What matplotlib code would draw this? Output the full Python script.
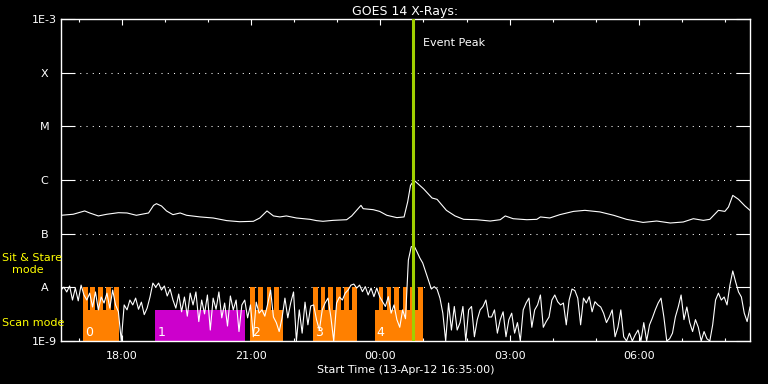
import numpy as np
import matplotlib.pyplot as plt

# GOES 14 X-ray flux, time in minutes after 13-Apr-12 16:35:00
# long channel (1-8 A), flux in units of 1e-7 W/m^2
long_minutes = [0, 17, 33, 40, 52, 64, 80, 92, 105, 122, 129, 133, 140, 147, 156, 166,
                175, 194, 212, 231, 249, 268, 277, 287, 296, 305, 314, 328, 347, 356,
                365, 379, 398, 405, 418, 421, 435, 444, 454, 468, 478, 483, 487, 491,
                493, 505, 517, 524, 537, 549, 561, 579, 598, 612, 619, 630, 649, 663,
                668, 681, 695, 714, 730, 751, 770, 788, 811, 830, 849, 867, 881, 895,
                904, 916, 925, 930, 936, 944, 953, 960]
long_flux = [2.2, 2.3, 2.65, 2.43, 2.14, 2.3, 2.46, 2.43, 2.2, 2.43, 3.37, 3.62, 3.28, 2.65,
             2.26, 2.43, 2.2, 2.05, 1.96, 1.75, 1.67, 1.7, 1.96, 2.65, 2.14, 2.05, 2.14,
             1.96, 1.85, 1.75, 1.7, 1.77, 1.82, 2.14, 3.37, 2.92, 2.8, 2.6, 2.2, 1.99,
             2.05, 3.9, 7.94, 9.43, 9.59, 6.89, 4.62, 4.36, 2.72, 2.14, 1.85, 1.82, 1.72,
             1.82, 2.14, 1.9, 1.82, 1.85, 2.05, 1.96, 2.26, 2.6, 2.72, 2.54, 2.2, 1.85,
             1.62, 1.72, 1.58, 1.65, 1.9, 1.77, 1.85, 2.72, 2.6, 3.14, 5.17, 4.36, 3.28,
             2.72]

# short channel (0.5-4 A), one value every 4 minutes, units of 1e-9 W/m^2
short_step = 4
short_flux = [8.9, 10.1, 8.2, 10.6, 5.8, 9.7, 5.6, 11.0, 7.2, 5.8,
              7.8, 4.3, 8.2, 3.8, 6.6, 5.1, 7.8, 4.1, 8.9, 4.7,
              3.5, 1.0, 4.7, 3.8, 5.8, 4.7, 6.3, 3.9, 5.3, 3.1,
              4.1, 6.6, 12.0, 10.1, 12.0, 8.9, 10.6, 6.9, 9.3, 5.8,
              4.1, 7.5, 3.5, 6.6, 2.9, 7.8, 4.7, 8.2, 2.3, 5.8,
              3.2, 7.2, 1.6, 6.3, 3.9, 8.2, 2.7, 5.1, 1.9, 6.9,
              3.8, 5.8, 1.5, 4.7, 5.8, 2.7, 4.7, 1.2, 5.3, 3.3,
              3.8, 2.9, 4.9, 8.9, 2.8, 2.2, 1.5, 2.7, 6.3, 2.7,
              5.1, 8.2, 1.0, 3.8, 1.4, 5.3, 2.0, 4.5, 4.7, 2.5,
              1.6, 3.8, 5.1, 6.3, 2.8, 1.0, 5.1, 6.6, 5.8, 7.8,
              8.9, 11.0, 11.5, 9.7, 11.0, 8.3, 10.3, 7.2, 9.7, 6.7,
              9.7, 6.7, 5.4, 4.4, 6.7, 3.3, 4.7, 2.5, 1.8, 3.8,
              2.6, 32.3, 57.1, 58.9, 46.0, 35.2, 28.4, 19.6, 13.7, 9.3,
              10.3, 9.2, 6.3, 3.3, 1.0, 5.1, 1.6, 4.4, 1.6, 2.2,
              4.4, 1.0, 3.8, 4.4, 1.2, 2.5, 3.8, 4.4, 5.8, 2.8,
              2.8, 3.8, 1.4, 2.5, 3.5, 1.2, 2.5, 3.3, 1.4, 2.2,
              1.0, 3.8, 5.1, 6.3, 1.8, 3.8, 4.7, 7.2, 1.8, 2.3,
              2.8, 5.8, 7.2, 5.4, 4.7, 5.1, 2.0, 5.8, 9.3, 8.7,
              6.3, 2.0, 6.3, 5.1, 6.7, 3.5, 5.4, 4.7, 4.3, 3.3,
              2.2, 2.8, 3.8, 1.2, 1.8, 3.8, 1.2, 1.0, 1.4, 1.0,
              1.3, 1.6, 1.0, 2.2, 1.0, 2.0, 2.7, 3.8, 5.1, 6.3,
              2.8, 1.0, 1.1, 1.4, 2.8, 4.3, 7.2, 2.5, 4.3, 2.2,
              1.5, 2.5, 1.8, 1.0, 1.5, 1.1, 1.0, 2.0, 5.8, 7.8,
              5.8, 6.6, 4.7, 11.0, 20.2, 12.6, 8.2, 6.6, 3.3, 2.3,
              4.3]

peak_minute = 491

# observing mode blocks
block_labels = ['0', '1', '2', '3', '4']
block_start = [31, 131, 263, 351, 437]
block_end = [81, 256, 309, 412, 504]
block_colors = ['#ff8000', '#cc00cc', '#ff8000', '#ff8000', '#ff8000']
# sit & stare intervals
stare_start = [31, 41, 52, 63, 74, 263, 275, 287, 297, 351, 362, 372, 383, 394, 405,
               443, 454, 464, 476, 486, 497]
stare_end = [38, 48, 59, 70, 81, 270, 281, 293, 304, 358, 368, 379, 390, 401, 412,
             449, 460, 471, 482, 493, 504]
scan_top = 3.8e-9
stare_top = 1e-8

tick_minutes = [85, 265, 445, 625, 805]
tick_labels = ['18:00', '21:00', '00:00', '03:00', '06:00']
class_levels = [1e-9, 1e-8, 1e-7, 1e-6, 1e-5, 1e-4, 1e-3]
class_labels = ['1E-9', 'A', 'B', 'C', 'M', 'X', '1E-3']

fig = plt.figure(figsize=(7.68, 3.84), dpi=100, facecolor='black')
ax = fig.add_axes([61/768, 1 - 341/384, 689/768, 322/384], facecolor='black')

# mode blocks
for s, e, c in zip(block_start, block_end, block_colors):
    ax.bar(s, scan_top - 1e-9, width=e - s, bottom=1e-9, align='edge',
           color=c, linewidth=0, zorder=2)
for s, e in zip(stare_start, stare_end):
    ax.bar(s, stare_top - 1e-9, width=e - s, bottom=1e-9, align='edge',
           color='#ff8000', linewidth=0, zorder=2)
for s, lab in zip(block_start, block_labels):
    ax.text(s + 3, 1.45e-9, lab, color='white', fontsize=9, va='center', ha='left', zorder=5)

# class level dotted lines
for lev in class_levels[1:-1]:
    ax.axhline(lev, color='white', lw=0.75, ls=(0, (1, 5)), zorder=1)

short_minutes = np.arange(len(short_flux)) * short_step
ax.plot(long_minutes, np.array(long_flux) * 1e-7, color='white', lw=0.8, zorder=3)
ax.plot(short_minutes, np.array(short_flux) * 1e-9, color='white', lw=0.8, zorder=3)

ax.axvline(peak_minute, color='#a0d000', lw=2.2, zorder=4)
ax.text(peak_minute + 14, 3.6e-4, 'Event Peak', color='white', fontsize=8, va='center')

ax.set_yscale('log')
ax.set_ylim(1e-9, 1e-3)
ax.set_xlim(0, 960)
ax.set_yticks(class_levels)
ax.set_yticklabels(class_labels, ha='center')
ax.minorticks_off()
ax.set_xticks(tick_minutes)
ax.set_xticklabels(tick_labels)
ax.set_xticks(np.arange(25, 961, 60), minor=True)

ax.tick_params(axis='y', which='major', direction='in', length=10, width=0.8,
               left=True, right=True, colors='white', labelsize=8, pad=12)
ax.tick_params(axis='x', which='major', direction='in', length=4.3, width=0.8,
               top=True, bottom=True, colors='white', labelsize=8, pad=7)
ax.tick_params(axis='x', which='minor', direction='in', length=2.2, width=0.8,
               top=True, bottom=True, colors='white')
for sp in ax.spines.values():
    sp.set_color('white')
    sp.set_linewidth(1)

ax.set_title('GOES 14 X-Rays:', color='white', fontsize=9, pad=3)
ax.set_xlabel('Start Time (13-Apr-12 16:35:00)', color='white', fontsize=8, labelpad=3)

fig.text(2/768, 1 - 258/384, 'Sit & Stare', color='#ffff00', fontsize=8, va='center')
fig.text(12/768, 1 - 270/384, 'mode', color='#ffff00', fontsize=8, va='center')
fig.text(2/768, 1 - 323/384, 'Scan mode', color='#ffff00', fontsize=8, va='center')

fig.savefig('out.png', dpi=100, facecolor='black')
